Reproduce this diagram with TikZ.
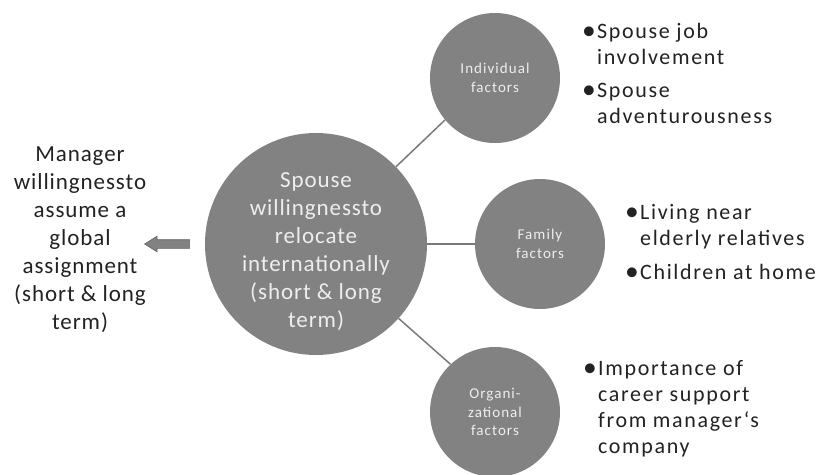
\documentclass[tikz,border=0pt]{standalone}
\usepackage{fontspec}
\setmainfont{Carlito}
\newfontfamily\spA[LetterSpace=4]{Carlito}
\newfontfamily\spB[LetterSpace=7.5]{Carlito}
\newfontfamily\spC[LetterSpace=7]{Carlito}
\usetikzlibrary{shapes.arrows}
\definecolor{circ}{HTML}{828282}
\definecolor{linec}{HTML}{7A7A7A}
\definecolor{ctext}{HTML}{EEEEEE}
\definecolor{dtext}{HTML}{222222}
\newcommand{\bul}{\llap{\makebox[15pt][l]{\raisebox{-1pt}{\scalebox{1.25}{•}}}}}
\begin{document}
\begin{tikzpicture}[x=1pt,y=-1pt,
  bigcirc/.style={circle,fill=circ,minimum size=222pt,inner sep=0pt},
  smallcirc/.style={circle,fill=circ,minimum size=130pt,inner sep=0pt,
     text=ctext,align=center,font=\spC\fontsize{15}{18.5}\selectfont},
  bigtext/.style={align=center,font=\spA\fontsize{23}{28}\selectfont},
  bullets/.style={anchor=base west,align=left,text=dtext,inner sep=0pt,
     font=\spB\fontsize{22}{26}\selectfont},
  conn/.style={draw=linec,line width=1.5pt}]
\useasboundingbox (0,0) rectangle (819,474);
% circles
\node[bigcirc] (c) at (316,244) {};
\node[bigtext,text=ctext] (ct) at (316,252)
  {Spouse\\willingnessto\\relocate\\internationally\\(short \& long\\term)};
\node[smallcirc] (ind) at (495,78) {Individual\\factors};
\node[smallcirc] (fam) at (540,244) {Family\\factors};
\node[smallcirc] (org) at (495,412) {Organi-\\zational\\factors};
% connectors
\draw[conn] (c.44) -- (ind.220);
\draw[conn] (c.east) -- (fam.west);
\draw[conn] (c.-42) -- (org.133);
% left text and arrow
\node[bigtext,text=dtext] (mgr) at (80,240)
  {Manager\\willingnessto\\assume a\\global\\assignment\\(short \& long\\term)};
\node[single arrow,shape border rotate=180,fill=circ,draw=linec!80!black,
  line width=0.6pt,minimum height=45pt,minimum width=15pt,inner sep=4pt,
  single arrow head extend=3.5pt,single arrow tip angle=64] (arr) at (170.5,244) {};
% bullet lists (anchor = baseline of the last line)
\node[bullets] (b1) at (597,64) {\bul Spouse job\\involvement};
\node[bullets] (b2) at (597,123) {\bul Spouse\\adventurousness};
\node[bullets] (b3) at (640,245) {\bul Living near\\elderly relatives};
\node[bullets] (b4) at (640,279) {\bul Children at home};
\node[bullets] (b5) at (598,453) {\bul Importance of\\career support\\from manager‘s\\company};
\end{tikzpicture}
\end{document}
